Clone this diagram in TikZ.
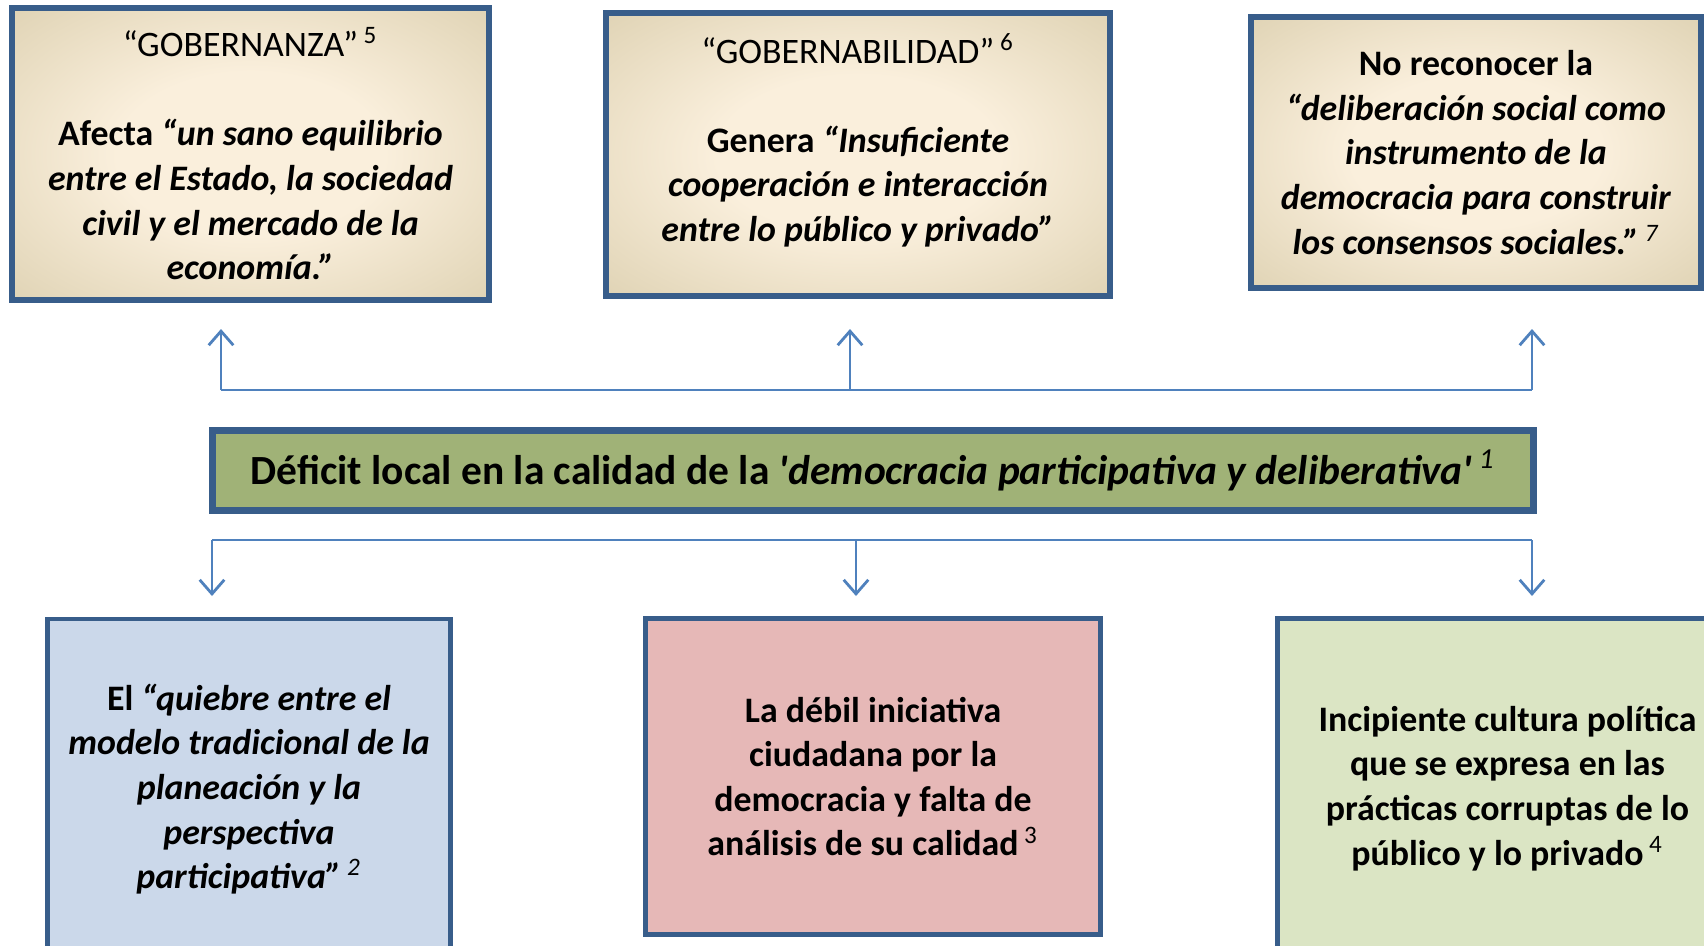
\documentclass[tikz,border=0pt]{standalone}
\usepackage{fontspec}
\setmainfont{Carlito}
\usetikzlibrary{arrows.meta}
\definecolor{borde}{HTML}{385D8A}
\definecolor{flechaazul}{HTML}{4F81BD}
\definecolor{cremaC}{HTML}{FAEFDC}
\definecolor{cremaB}{HTML}{D3C6A2}
\definecolor{barra}{HTML}{A0B277}
\definecolor{azulclaro}{HTML}{CBD8EA}
\definecolor{rosa}{HTML}{E6B8B7}
\definecolor{verdeclaro}{HTML}{DBE5C4}
\pgfdeclareradialshading{crema}{\pgfpoint{0bp}{0bp}}{color(0bp)=(cremaC); color(14bp)=(cremaC); color(46bp)=(cremaB); color(72bp)=(cremaB)}
\newcommand{\nota}[1]{\textsuperscript{\mdseries\ #1}}

\begin{document}
\begin{tikzpicture}[x=0.1mm,y=-0.1mm,
  caja/.style={draw=borde,rectangle,align=center,inner sep=0pt,
    font=\bfseries\fontsize{10.2}{12.7}\selectfont},
  arriba/.style={caja,line width=1.7pt,shade,shading=crema},
  abajo/.style={caja,line width=1.4pt},
  linea/.style={draw=flechaazul,line width=0.8pt},
  flecha/.style={linea,-{Straight Barb[length=4pt,width=7pt]}}]
\useasboundingbox (0,0) rectangle (1704,945);
\clip (0,0) rectangle (1704,945);

% consecuencias (arriba)
\node[arriba,minimum width=47.7mm,minimum height=29.2mm] (gobernanza) at (250.5,154)
  {{\mdseries “GOBERNANZA”\nota{5}}\\[12.7pt]
   Afecta \textit{“un sano equilibrio}\\
   \textit{entre el Estado, la sociedad}\\
   \textit{civil y el mercado de la}\\
   \textit{economía.”}};
\node[arriba,minimum width=50.4mm,minimum height=28.3mm] (gobernabilidad) at (858,154.5)
  {{\mdseries “GOBERNABILIDAD”\nota{6}}\\[12.7pt]
   Genera \textit{“Insuficiente}\\
   \textit{cooperación e interacción}\\
   \textit{entre lo público y privado”}\\[-3pt]\mbox{}};
\node[arriba,minimum width=45mm,minimum height=27.1mm] (deliberacion) at (1476,152.5)
  {No reconocer la\\
   \textit{“deliberación social como}\\
   \textit{instrumento de la}\\
   \textit{democracia para construir}\\
   \textit{los consensos sociales.”\nota{7}}};

% problema central
\node[caja,line width=2pt,fill=barra,minimum width=132.1mm,minimum height=8mm,
  font=\bfseries\fontsize{11.8}{14}\selectfont] (deficit) at (873,470.5)
  {Déficit local en la calidad de la \textit{\textquotesingle democracia participativa y deliberativa\textquotesingle\nota{1}}};

% causas (abajo)
\node[abajo,fill=azulclaro,minimum width=40.3mm,minimum height=34mm] (quiebre) at (249,789)
  {El \textit{“quiebre entre el}\\
   \textit{modelo tradicional de la}\\
   \textit{planeación y la}\\
   \textit{perspectiva}\\
   \textit{participativa”\nota{2}}};
\node[abajo,fill=rosa,minimum width=45.5mm,minimum height=31.6mm] (iniciativa) at (873,776.5)
  {La débil iniciativa\\
   ciudadana por la\\
   democracia y falta de\\
   análisis de su calidad\nota{3}};
\node[abajo,fill=verdeclaro,minimum width=46mm,minimum height=34mm] (cultura) at (1507.5,788.5)
  {Incipiente cultura política\\
   que se expresa en las\\
   prácticas corruptas de lo\\
   público y lo privado\nota{4}};

% flechas
\foreach \n/\x in {L/221,C/850,R/1532}{
  \coordinate (sube\n) at (\x,390);
  \coordinate (puntaA\n) at (\x,329);
}
\foreach \n/\x in {L/212,C/856,R/1532}{
  \coordinate (baja\n) at (\x,540);
  \coordinate (puntaB\n) at (\x,596);
}
\draw[linea] (subeL) -- (subeR);
\draw[linea] (bajaL) -- (bajaR);
\foreach \n in {L,C,R}{
  \draw[flecha] (sube\n) -- (puntaA\n);
  \draw[flecha] (baja\n) -- (puntaB\n);
}
\end{tikzpicture}
\end{document}
